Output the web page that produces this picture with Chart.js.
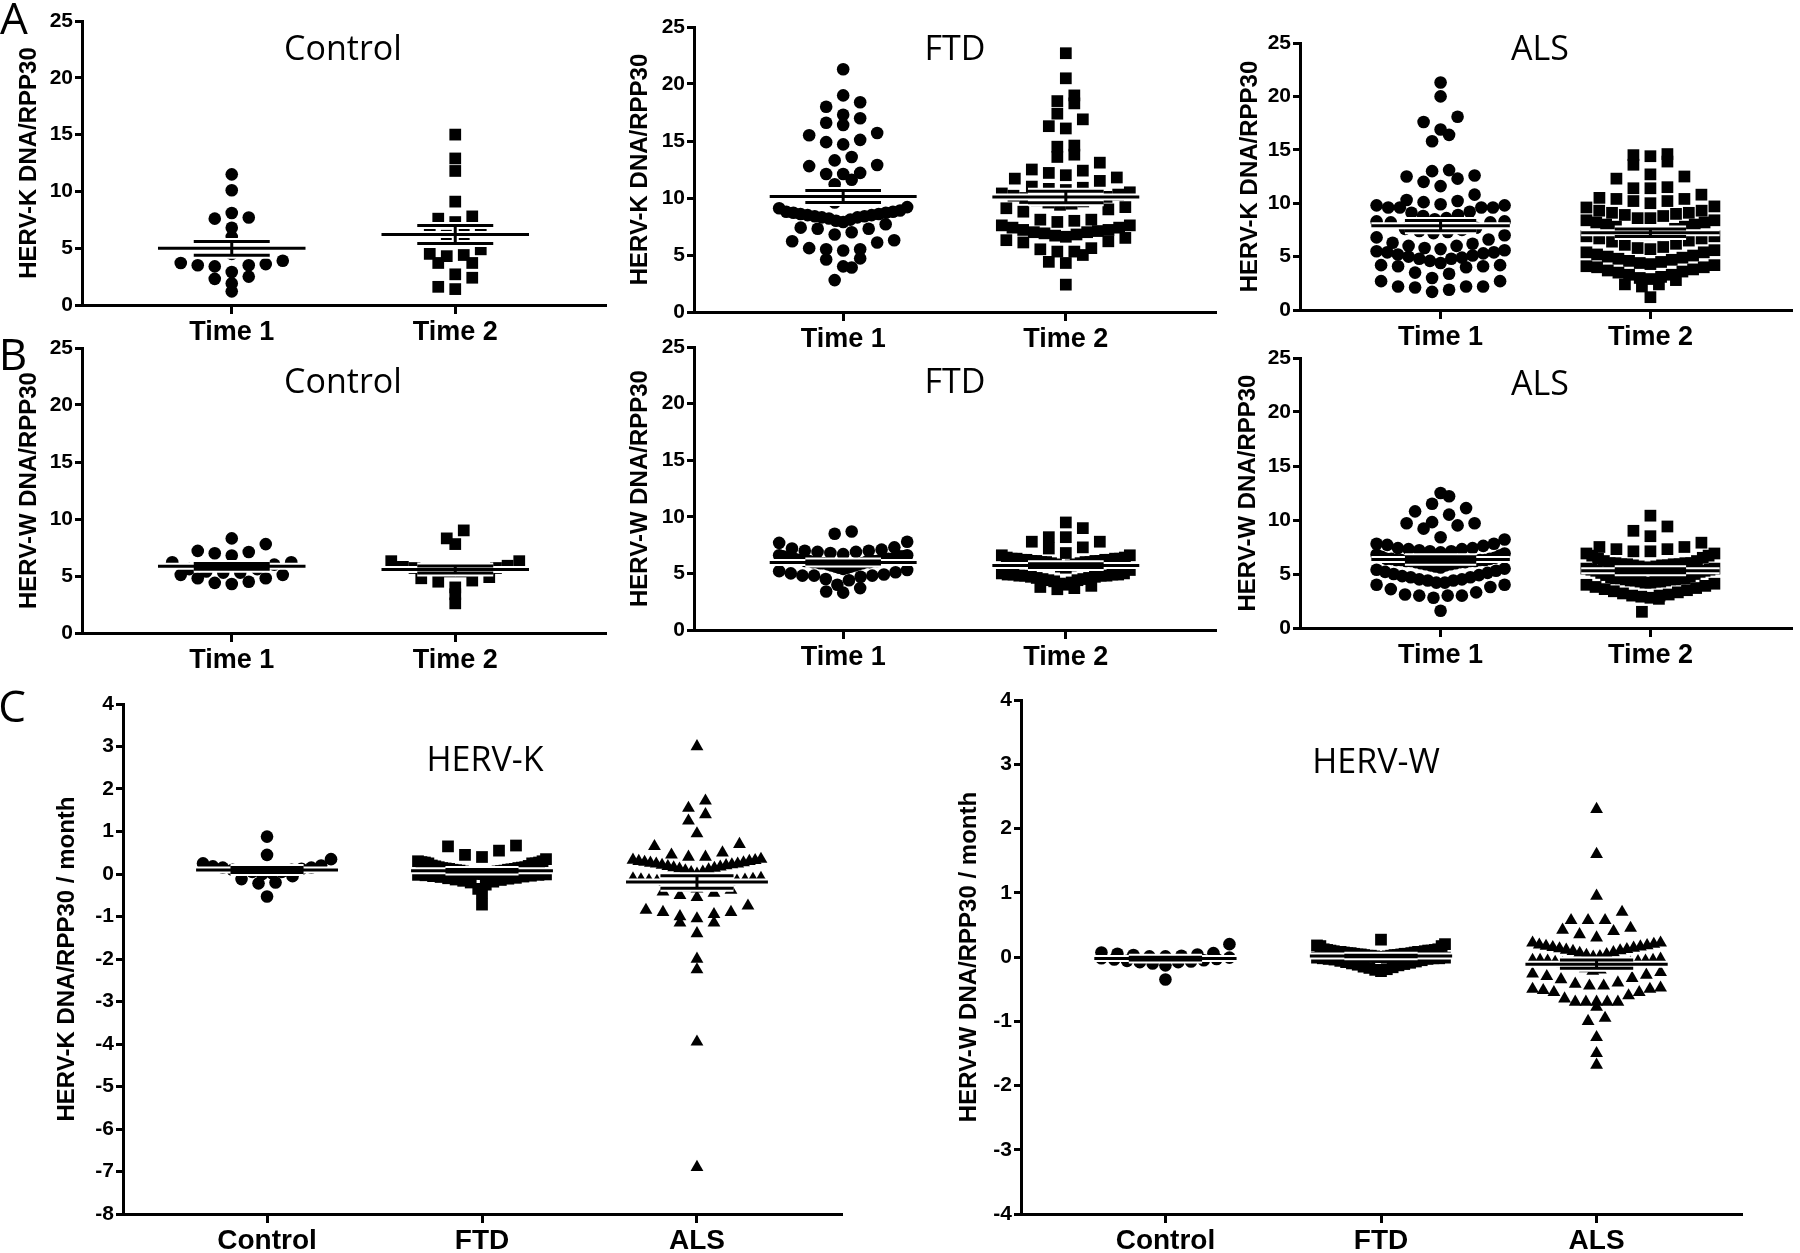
<!DOCTYPE html>
<html>
<head>
<meta charset="utf-8">
<script src="https://cdn.jsdelivr.net/npm/chart.js@4.4.0/dist/chart.umd.min.js"></script>
<style>
  html, body { margin: 0; padding: 0; background: #fff; }
  body { width: 1800px; height: 1253px; position: relative; overflow: hidden; }
  .ttl { position: absolute; transform: translate(-50%, -50%); font-family: "Open Sans", sans-serif; font-size: 34px; line-height: 1; color: #000; white-space: nowrap; }
  .letter { position: absolute; transform: translate(-50%, -50%); font-family: "Open Sans", sans-serif; font-size: 44px; line-height: 1; color: #000; }
</style>
</head>
<body>
<script>
/* categories */
const TIME_CATS = ['Time 1', 'Time 2'];
const GROUP_CATS = ['Control', 'FTD', 'ALS'];

/* A: HERV-K DNA/RPP30 */
const A_CONTROL_T1 = [11.5,10.1,8.1,7.6,7.7,6.8,6.0,5.0,5.0,4.5,3.9,3.6,3.5,3.4,3.5,3.7,2.9,2.5,2.3,1.9,1.2];
const A_CONTROL_T2 = [15.0,12.9,11.8,9.1,7.8,7.6,7.3,6.5,6.5,6.1,6.2,4.9,4.4,4.3,4.5,3.7,3.7,2.7,2.4,1.6,1.4];
const A_FTD_T1 = [21.3,19.0,18.4,18.0,17.3,17.0,16.6,16.4,15.7,15.5,15.1,14.9,14.7,13.6,13.3,12.9,12.8,12.2,12.1,12.1,11.6,11.2,10.4,10.2,10.2,9.6,9.2,9.1,
  8.9,8.8,8.7,8.6,8.5,8.4,8.3,8.1,7.9,8.0,8.2,8.3,8.4,8.5,8.6,8.7,8.8,
  7.7,7.4,7.3,7.0,6.8,6.2,6.3,7.3,6.1,5.6,5.5,5.4,5.5,4.7,4.6,4.0,3.9,2.8];
const A_FTD_T2 = [22.7,20.5,19.0,18.5,18.3,17.4,16.9,16.3,16.1,14.6,14.5,13.8,13.6,13.1,12.5,12.4,12.0,12.2,11.8,11.7,11.5,11.0,10.9,
  10.8,10.5,10.2,10.0,10.0,10.1,10.3,10.4,10.7,
  9.1,9.0,9.7,9.5,9.4,9.6,9.8,8.8,9.2,
  8.1,7.9,8.0,8.1,
  7.6,7.4,7.2,7.1,7.0,6.9,6.7,6.5,6.2,6.1,6.3,6.6,6.8,7.0,7.2,7.4,7.6,
  5.6,5.3,4.4,4.3,5.0,5.3,5.5,2.4];
const A_ALS_T1 = [21.3,20.0,18.1,17.6,16.9,16.4,15.8,13.1,13.0,12.6,12.3,12.5,12.0,11.6,
  10.3,10.1,9.9,9.6,9.6,9.6,9.6,9.8,9.8,10.2,10.8,
  9.1,8.9,8.6,8.3,8.2,8.2,8.3,8.5,8.8,9.2,
  7.7,7.5,7.3,7.0,6.6,6.2,6.3,6.8,7.2,7.4,7.6,
  6.0,5.7,5.5,5.4,5.3,5.1,4.9,5.0,5.2,5.4,5.6,5.8,6.0,
  4.8,4.4,4.1,4.1,3.5,3.4,4.0,4.2,4.2,4.6,4.8,
  3.0,2.7,2.2,2.1,1.7,1.9,2.2,2.2,2.7];
const A_ALS_T2 = [14.5,13.6,13.9,14.4,14.6,12.5,12.7,12.3,11.4,11.4,11.5,10.8,
  10.5,10.4,10.2,9.7,9.3,9.1,9.1,9.3,9.6,10.0,10.2,10.4,
  9.0,8.8,8.6,8.4,8.2,8.0,7.8,7.6,7.8,8.0,8.2,8.4,8.6,8.9,
  7.3,7.2,7.1,6.9,6.7,6.5,6.2,5.9,5.8,6.1,6.4,6.7,6.9,7.1,7.3,
  5.6,5.4,5.2,5.0,4.8,4.6,4.4,4.2,4.3,4.5,4.7,4.9,5.1,5.4,5.7,
  4.1,4.0,3.7,3.5,3.3,3.0,2.8,2.9,3.1,3.3,3.6,3.8,4.0,
  2.4,2.2,2.4,1.2];

/* B: HERV-W DNA/RPP30 */
const B_CONTROL_T1 = [8.3,7.8,7.1,6.8,7.0,7.2,6.2,6.2,6.0,5.6,5.3,5.1,4.8,4.5,4.3,4.4,4.8,5.1,5.3,5.4,5.6];
const B_CONTROL_T2 = [9.0,8.3,7.8,6.3,6.3,5.8,5.7,5.6,5.5,5.4,5.4,5.5,5.6,5.7,5.9,4.8,4.6,4.5,4.9,4.0,3.4,2.6];
const B_FTD_T1 = [8.7,8.5,
  7.8,7.3,7.1,7.0,6.9,6.6,6.5,6.7,6.8,6.9,7.0,7.2,7.7,
  6.6,6.5,6.4,6.4,6.3,6.3,6.2,6.2,6.1,6.1,6.0,6.0,5.9,5.9,5.8,5.7,5.6,5.5,5.3,5.1,
  4.9,5.0,5.2,5.4,5.5,5.6,5.7,5.8,5.9,6.0,6.0,6.1,6.1,6.2,6.2,6.3,6.4,6.5,
  4.8,4.8,4.4,3.7,3.3,3.4,4.0,4.5,4.7,4.8];
const B_FTD_T2 = [9.5,9.0,
  8.2,7.8,7.2,6.8,6.6,6.6,7.3,7.8,8.2,
  6.4,6.3,6.3,6.2,6.2,6.1,6.1,6.0,6.0,5.9,5.8,5.7,5.5,5.3,5.6,5.8,5.9,6.0,6.0,6.1,6.1,6.2,6.2,6.3,6.3,6.4,
  5.0,4.9,4.9,4.8,4.8,4.7,4.6,4.5,4.4,4.2,4.0,3.8,3.6,3.7,3.9,4.1,4.3,4.4,4.5,4.6,4.7,4.8,4.8,4.9,4.9,5.0];
const B_ALS_T1 = [12.5,12.2,11.5,11.1,10.8,10.5,9.8,9.7,9.5,9.7,9.2,
  8.4,7.8,7.8,7.7,8.2,
  7.6,7.4,7.3,7.1,6.9,6.7,6.5,6.6,6.8,7.0,7.1,7.2,7.3,7.4,
  6.4,6.3,6.3,6.2,6.2,6.1,6.0,5.9,5.8,5.6,5.4,5.2,5.0,4.8,4.9,5.1,5.3,5.5,5.7,5.8,5.9,6.0,6.1,6.1,6.2,6.2,6.3,6.3,6.4,6.4,
  4.7,4.5,4.4,4.2,4.0,3.6,3.3,3.8,4.0,4.2,4.4,4.5,4.7,
  3.0,3.0,2.8,3.0,3.1,1.6];
const B_ALS_T2 = [10.4,9.4,9.0,8.5,7.9,
  7.5,7.3,7.1,6.9,6.7,6.4,6.2,6.0,6.2,6.5,6.7,6.9,7.1,7.3,7.5,
  6.0,5.9,5.9,5.8,5.7,5.6,5.5,5.4,5.3,5.1,4.9,4.7,4.5,4.3,4.4,4.6,4.8,5.0,5.2,5.3,5.4,5.5,5.6,5.7,5.8,5.8,5.9,5.9,6.0,6.0,
  4.6,4.5,4.4,4.3,4.2,4.0,3.8,3.6,3.4,3.2,3.0,2.8,2.9,3.1,3.3,3.5,3.7,3.9,4.1,4.2,4.3,4.4,4.5,4.6,4.6,
  3.0,2.7,1.5];

/* C: change per month */
const C_K_CONTROL = [0.88,0.45,0.35,0.18,0.15,0.12,0.10,0.08,0.05,0.02,0.0,0.05,0.10,0.15,0.20,0.25,-0.05,-0.12,-0.20,-0.22,-0.53];
const C_K_FTD = [0.67,0.65,0.55,0.45,0.40,
  0.35,0.30,0.28,0.27,0.25,0.25,0.25,0.27,0.30,
  0.20,0.18,0.16,0.15,0.14,0.13,0.12,0.11,0.10,0.09,0.08,0.07,0.06,0.05,0.04,0.03,0.02,0.01,0.0,-0.01,
  -0.02,-0.03,-0.05,-0.07,-0.09,-0.11,-0.13,-0.16,-0.20,-0.25,
  -0.18,-0.14,-0.10,-0.06,-0.04,-0.02,0.0,0.02,0.04,0.06,0.08,0.10,0.12,0.14,0.16,0.19,
  -0.35,-0.45,-0.72];
const C_K_ALS = [3.0,1.72,1.55,1.4,1.25,0.95,
  0.65,0.7,0.5,0.45,0.4,0.4,0.35,
  0.32,0.3,0.28,0.26,0.24,0.22,0.2,0.17,0.14,0.1,0.05,0.0,0.04,0.08,0.12,0.15,0.18,0.21,0.24,0.27,0.3,0.33,
  -0.1,-0.12,-0.14,-0.16,-0.18,-0.21,-0.25,-0.3,-0.35,-0.42,-0.5,-0.55,-0.45,-0.38,-0.32,-0.27,-0.23,-0.19,-0.17,-0.15,-0.13,-0.11,
  -0.85,-0.9,-1.0,-1.05,-0.95,-0.9,-0.75,-1.15,-1.15,-1.4,
  -2.0,-2.25,-3.95,-6.9];
const C_W_CONTROL = [0.20,0.07,0.06,0.03,0.01,-0.02,-0.04,-0.08,-0.05,-0.07,-0.10,-0.13,-0.06,-0.03,-0.08,-0.01,0.01,0.02,0.04,0.05,-0.35];
const C_W_FTD = [0.27,0.20,0.17,0.17,0.18,
  0.12,0.11,0.10,0.10,0.09,0.08,0.08,0.07,0.06,0.05,0.04,0.03,0.02,0.01,0.0,-0.01,-0.02,-0.03,-0.05,-0.07,
  -0.09,-0.11,-0.13,-0.15,-0.17,-0.19,-0.22,-0.20,-0.16,-0.12,-0.10,-0.08,-0.06,-0.04,-0.03,-0.02,-0.01,0.0,0.01,0.02,
  0.03,0.04,0.05,0.06,0.07,0.08,0.09,0.10,0.11,0.12,0.05,0.03,0.0,-0.02,0.04,0.06,0.02,0.08];
const C_W_ALS = [2.3,1.6,0.95,0.7,
  0.57,0.57,0.57,0.42,0.35,0.3,0.4,0.45,
  0.22,0.2,0.18,0.16,0.14,0.12,0.1,0.07,0.04,0.01,-0.03,-0.05,0.0,0.03,0.06,0.09,0.11,0.13,0.15,0.17,0.19,0.22,
  -0.05,-0.06,-0.08,-0.1,-0.12,-0.15,-0.18,-0.22,-0.26,-0.3,-0.35,-0.33,-0.28,-0.24,-0.2,-0.16,-0.13,-0.11,-0.09,-0.07,-0.06,-0.05,
  -0.4,-0.45,-0.5,-0.52,-0.55,-0.6,-0.55,-0.5,-0.48,-0.45,-0.42,
  -0.7,-0.7,-0.7,-0.65,-0.78,-0.7,-0.7,
  -1.0,-0.95,-1.25,-1.5,-1.68];

/* layout */
const FONT = '"Liberation Sans", Arial, sans-serif';
const PAD_TOP = 20, PAD_RIGHT = 10, X_AXIS_H = 62;
const BIN_PX = 15, STEP_PX = 17, MAX_HALF_PX = 64;

Chart.defaults.font.family = FONT;
Chart.defaults.color = '#000';

const PANELS = [
  { axisX: 82,   right: 605,  top: 21,  bottom: 305,  labelX: 29,   min: 0,  max: 25, step: 5, cats: TIME_CATS,  series: [A_CONTROL_T1, A_CONTROL_T2], marks: ['circle', 'rect'], yTitle: 'HERV-K DNA/RPP30' },
  { axisX: 694,  right: 1215, top: 27,  bottom: 312,  labelX: 640,  min: 0,  max: 25, step: 5, cats: TIME_CATS,  series: [A_FTD_T1, A_FTD_T2], marks: ['circle', 'rect'], yTitle: 'HERV-K DNA/RPP30' },
  { axisX: 1300, right: 1791, top: 43,  bottom: 310,  labelX: 1250, min: 0,  max: 25, step: 5, cats: TIME_CATS,  series: [A_ALS_T1, A_ALS_T2], marks: ['circle', 'rect'], yTitle: 'HERV-K DNA/RPP30' },
  { axisX: 82,   right: 605,  top: 348, bottom: 633,  labelX: 29,   min: 0,  max: 25, step: 5, cats: TIME_CATS,  series: [B_CONTROL_T1, B_CONTROL_T2], marks: ['circle', 'rect'], yTitle: 'HERV-W DNA/RPP30' },
  { axisX: 694,  right: 1215, top: 347, bottom: 630,  labelX: 640,  min: 0,  max: 25, step: 5, cats: TIME_CATS,  series: [B_FTD_T1, B_FTD_T2], marks: ['circle', 'rect'], yTitle: 'HERV-W DNA/RPP30' },
  { axisX: 1300, right: 1791, top: 358, bottom: 628,  labelX: 1248, min: 0,  max: 25, step: 5, cats: TIME_CATS,  series: [B_ALS_T1, B_ALS_T2], marks: ['circle', 'rect'], yTitle: 'HERV-W DNA/RPP30' },
  { axisX: 123,  right: 841,  top: 704, bottom: 1214, labelX: 67,   min: -8, max: 4,  step: 1, cats: GROUP_CATS, series: [C_K_CONTROL, C_K_FTD, C_K_ALS], marks: ['circle', 'rect', 'triangle'], yTitle: 'HERV-K DNA/RPP30 / month', big: true },
  { axisX: 1021, right: 1741, top: 700, bottom: 1214, labelX: 969,  min: -4, max: 4,  step: 1, cats: GROUP_CATS, series: [C_W_CONTROL, C_W_FTD, C_W_ALS], marks: ['circle', 'rect', 'triangle'], yTitle: 'HERV-W DNA/RPP30 / month', big: true }
];

const TITLES = [
  ['Control', 343, 47], ['FTD', 955, 47], ['ALS', 1540, 47],
  ['Control', 343, 380], ['FTD', 955, 380], ['ALS', 1540, 382],
  ['HERV-K', 485, 758], ['HERV-W', 1376, 760]
];
const LETTERS = [['A', 14, 17], ['B', 13, 353], ['C', 12, 705]];

const RADIUS = { circle: 6.3, rect: 8.3, triangle: 7.4 };

function mean(a) { return a.reduce((s, v) => s + v, 0) / a.length; }
function sem(a) {
  const m = mean(a);
  const sd = Math.sqrt(a.reduce((s, v) => s + (v - m) * (v - m), 0) / (a.length - 1));
  return sd / Math.sqrt(a.length);
}

// mean line, SEM caps and whisker for each group, separated by gaps
function summaryPath(series) {
  const pts = [];
  series.forEach((vals, i) => {
    const m = mean(vals), e = sem(vals);
    pts.push({x: i - 0.33, y: m}, {x: i + 0.33, y: m}, {x: i, y: null});
    pts.push({x: i - 0.17, y: m + e}, {x: i + 0.17, y: m + e}, {x: i, y: null});
    pts.push({x: i - 0.17, y: m - e}, {x: i + 0.17, y: m - e}, {x: i, y: null});
    pts.push({x: i, y: m - e}, {x: i, y: m + e}, {x: i, y: null});
  });
  return pts;
}

// Prism-like row layout: values binned by symbol height, lowest at the centre
function swarmOffsets(values, binH) {
  const groups = new Map();
  values.forEach((v, i) => {
    const k = Math.floor(v / binH);
    if (!groups.has(k)) groups.set(k, []);
    groups.get(k).push(i);
  });
  const off = new Array(values.length).fill(0);
  groups.forEach(idx => {
    idx.sort((a, b) => values[a] - values[b]);
    const n = idx.length;
    const step = n > 1 ? Math.min(STEP_PX, 2 * MAX_HALF_PX / (n - 1)) : 0;
    idx.forEach((id, j) => {
      let slot;
      if (n % 2) slot = j === 0 ? 0 : Math.ceil(j / 2) * (j % 2 ? -1 : 1);
      else slot = (Math.floor(j / 2) + 0.5) * (j % 2 ? 1 : -1);
      off[id] = slot * step;
    });
  });
  return off;
}

function buildPanel(p) {
  const titleSize = 24;
  const canvasLeft = Math.round(p.labelX - titleSize * 1.2 / 2);
  const canvasTop = p.top - PAD_TOP;
  const w = p.right - canvasLeft + PAD_RIGHT;
  const h = p.bottom - canvasTop + X_AXIS_H;
  const yAxisW = p.axisX - canvasLeft;

  const cv = document.createElement('canvas');
  cv.width = w; cv.height = h;
  cv.style.cssText = `position:absolute;left:${canvasLeft}px;top:${canvasTop}px;width:${w}px;height:${h}px;`;
  document.body.appendChild(cv);

  const summary = summaryPath(p.series);
  const pointSets = p.series.map((vals, i) => ({
    data: vals.map(v => ({x: i, y: v})),
    pointStyle: p.marks[i],
    pointRadius: RADIUS[p.marks[i]],
    pointHoverRadius: RADIUS[p.marks[i]],
    backgroundColor: '#000',
    borderColor: '#000',
    pointBorderWidth: 0,
    showLine: false
  }));

  const axisGrid = { drawOnChartArea: false, drawTicks: true, tickLength: 8, color: '#000', lineWidth: 3 };
  const axisBorder = { display: true, color: '#000', width: 3 };

  const chart = new Chart(cv, {
    type: 'scatter',
    data: {
      datasets: [
        { data: summary, showLine: true, borderColor: '#000', borderWidth: 3, pointRadius: 0, pointHoverRadius: 0, spanGaps: false },
        { data: summary, showLine: true, borderColor: '#fff', borderWidth: 7, pointRadius: 0, pointHoverRadius: 0, spanGaps: false },
        ...pointSets
      ]
    },
    options: {
      responsive: false,
      animation: false,
      devicePixelRatio: 1,
      layout: { padding: { top: PAD_TOP, right: PAD_RIGHT, left: 0, bottom: 0 } },
      plugins: { legend: { display: false }, tooltip: { enabled: false } },
      scales: {
        x: {
          type: 'linear',
          min: -0.67,
          max: p.cats.length - 1 + 0.67,
          afterBuildTicks: s => { s.ticks = p.cats.map((c, i) => ({value: i})); },
          afterFit: s => { s.height = X_AXIS_H; },
          ticks: {
            autoSkip: false, maxRotation: 0, padding: p.big ? 1 : 2, color: '#000',
            font: { size: p.big ? 28 : 27, weight: 'bold' },
            callback: v => p.cats[v] !== undefined ? p.cats[v] : ''
          },
          grid: { ...axisGrid, tickLength: 9 },
          border: axisBorder
        },
        y: {
          min: p.min, max: p.max,
          afterFit: s => { s.width = yAxisW; },
          ticks: { stepSize: p.step, padding: 2, color: '#000', font: { size: 21, weight: 'bold' } },
          grid: { ...axisGrid, tickLength: 7 },
          border: axisBorder,
          title: { display: true, text: p.yTitle, color: '#000', padding: 0, font: { size: titleSize, weight: 'bold' } }
        }
      }
    }
  });

  // spread the points of each group sideways, using the chart's own scales
  const xs = chart.scales.x, ys = chart.scales.y;
  const pxX = xs.getPixelForValue(1) - xs.getPixelForValue(0);
  const pxY = Math.abs(ys.getPixelForValue(0) - ys.getPixelForValue(1));
  p.series.forEach((vals, i) => {
    const off = swarmOffsets(vals, BIN_PX / pxY);
    chart.data.datasets[i + 2].data = vals.map((v, j) => ({x: i + off[j] / pxX, y: v}));
  });
  chart.update('none');
}

PANELS.forEach(buildPanel);

TITLES.forEach(([t, x, y]) => {
  const d = document.createElement('div');
  d.className = 'ttl'; d.textContent = t;
  d.style.left = x + 'px'; d.style.top = y + 'px';
  document.body.appendChild(d);
});
LETTERS.forEach(([t, x, y]) => {
  const d = document.createElement('div');
  d.className = 'letter'; d.textContent = t;
  d.style.left = x + 'px'; d.style.top = y + 'px';
  document.body.appendChild(d);
});
</script>
</body>
</html>
